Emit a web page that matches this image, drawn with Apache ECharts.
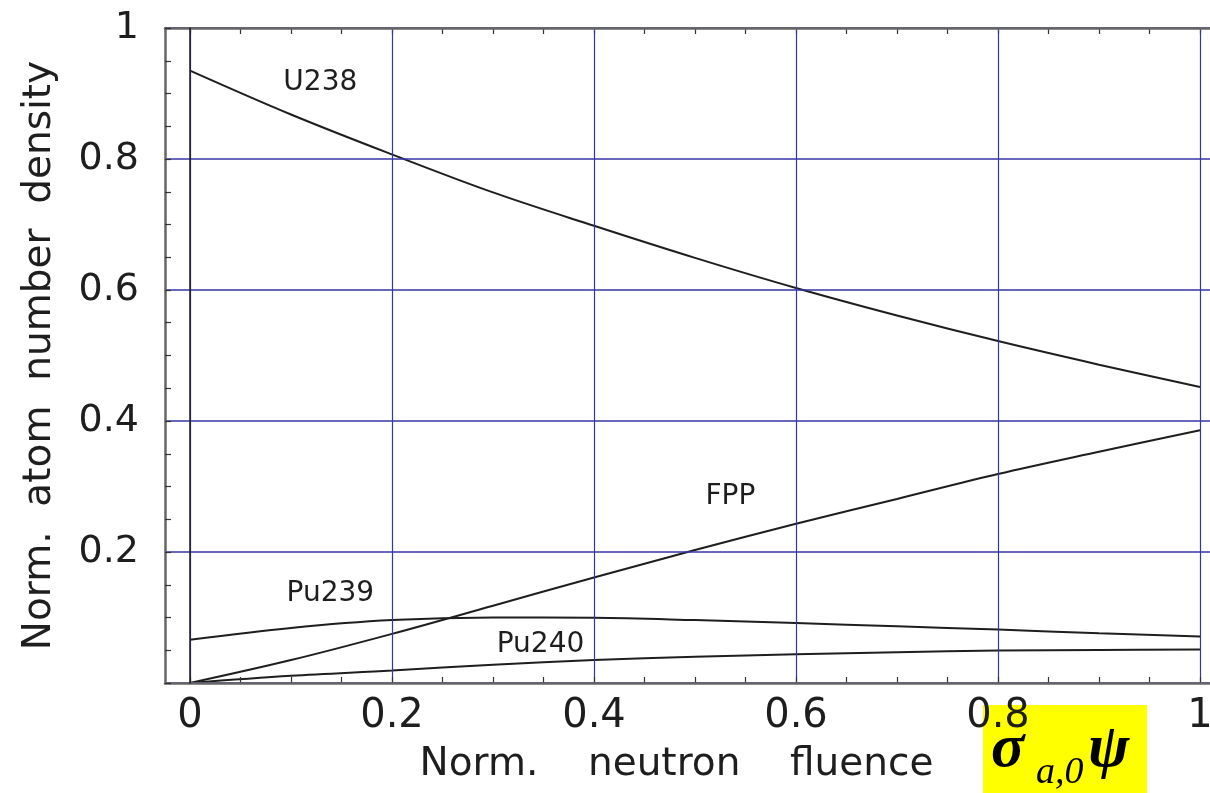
<!DOCTYPE html>
<html>
<head>
<meta charset="utf-8">
<script src="https://cdn.jsdelivr.net/npm/echarts@6/dist/echarts.min.js"></script>
<style>
  html, body { margin: 0; padding: 0; background: #fff; }
  #chart { width: 1210px; height: 793px; }
</style>
</head>
<body>
<div id="chart"></div>
<script>
// fluence steps
const fluence = [0, 0.1, 0.2, 0.3, 0.4, 0.5, 0.6, 0.7, 0.8, 0.9, 1.0]
const u238 = [0.935, 0.868, 0.807, 0.749, 0.698, 0.649, 0.603, 0.561, 0.522, 0.486, 0.452]
const fpp = [0, 0.035, 0.075, 0.118, 0.161, 0.203, 0.243, 0.281, 0.319, 0.353, 0.386]
const pu239 = [0.066, 0.084, 0.096, 0.100, 0.0995, 0.096, 0.0915, 0.0865, 0.0815, 0.076, 0.071]
const pu240 = [0, 0.011, 0.019, 0.028, 0.035, 0.040, 0.044, 0.047, 0.0495, 0.0505, 0.051]

const FONT = 'DejaVu Sans'
const NAVY = '#3535a5'
const FRAME = '#666'
const INK = '#1e1e1e'

const pairs = (ys) => fluence.map((x, i) => [x, ys[i]])

const curve = (name, ys, labelAt) => ({
    name: name,
    type: 'line',
    xAxisIndex: 2,
    yAxisIndex: 1,
    data: pairs(ys),
    smooth: 0.35,
    showSymbol: false,
    lineStyle: { color: INK, width: 2 },
    markPoint: {
        symbolSize: 0,
        silent: true,
        label: {
            show: true,
            position: 'inside',
            color: INK,
            fontFamily: FONT,
            fontSize: 28,
            formatter: name
        },
        data: [{ coord: labelAt }]
    }
})

const tickStyle = { color: '#333', width: 1.2 }

const chart = echarts.init(document.getElementById('chart'))

chart.setOption({
    animation: false,
    backgroundColor: '#fff',
    grid: [
        { left: 165, right: 0, top: 28, bottom: 110, outerBoundsMode: 'none', containLabel: false },
        { left: 190, right: 10, top: 28, bottom: 110, outerBoundsMode: 'none', containLabel: false }
    ],
    xAxis: [
        {
            // frame bottom
            gridIndex: 0, type: 'value', position: 'bottom', min: 0, max: 1, z: 5,
            axisLine: { show: true, onZero: false, lineStyle: { color: FRAME, width: 2.5 } },
            axisTick: { show: false }, axisLabel: { show: false }, splitLine: { show: false },
            name: 'Norm.    neutron    fluence',
            nameLocation: 'middle',
            nameGap: 62,
            nameTextStyle: { fontFamily: FONT, fontSize: 39, color: INK, padding: [0, 22, 0, 0] }
        },
        {
            // frame top
            gridIndex: 0, type: 'value', position: 'top', min: 0, max: 1, z: 5,
            axisLine: { show: true, onZero: false, lineStyle: { color: FRAME, width: 2.5 } },
            axisTick: { show: false }, axisLabel: { show: false }, splitLine: { show: false }
        },
        {
            gridIndex: 1, type: 'value', position: 'bottom', min: 0, max: 1, interval: 0.2, z: 4,
            axisLine: { show: false, onZero: false },
            axisTick: { show: true, inside: true, length: 6, lineStyle: tickStyle },
            minorTick: { show: true, splitNumber: 4, length: 6, lineStyle: tickStyle },
            axisLabel: { color: INK, fontFamily: FONT, fontSize: 40, margin: 14 },
            splitLine: { show: true, lineStyle: { color: NAVY, width: 1.2 } }
        },
        {
            gridIndex: 1, type: 'value', position: 'top', min: 0, max: 1, interval: 0.2,
            axisLine: { show: false, onZero: false },
            axisTick: { show: true, inside: true, length: 6, lineStyle: tickStyle },
            minorTick: { show: true, splitNumber: 4, length: 6, lineStyle: tickStyle },
            axisLabel: { show: false },
            splitLine: { show: false }
        }
    ],
    yAxis: [
        {
            gridIndex: 0, type: 'value', min: 0, max: 1, interval: 0.2, z: 5,
            axisLine: { show: true, onZero: false, lineStyle: { color: FRAME, width: 2.5 } },
            axisTick: { show: true, inside: true, length: 6, lineStyle: tickStyle },
            minorTick: { show: true, splitNumber: 4, length: 6, lineStyle: tickStyle },
            axisLabel: {
                color: INK, fontFamily: FONT, fontSize: 38, margin: 26,
                showMinLabel: false
            },
            splitLine: { show: true, lineStyle: { color: NAVY, width: 1.5 } },
            name: 'Norm.  atom  number  density',
            nameLocation: 'middle',
            nameGap: 106,
            nameTextStyle: { fontFamily: FONT, fontSize: 39, color: INK }
        },
        {
            // black line at x = 0
            gridIndex: 1, type: 'value', min: 0, max: 1, z: 6,
            axisLine: { show: true, onZero: false, lineStyle: { color: INK, width: 1.5 } },
            axisTick: { show: false }, axisLabel: { show: false }, splitLine: { show: false }
        }
    ],
    series: [
        curve('U238', u238, [0.129, 0.916]),
        curve('FPP', fpp, [0.535, 0.284]),
        curve('Pu239', pu239, [0.139, 0.137]),
        curve('Pu240', pu240, [0.347, 0.058])
    ],
    graphic: [
        {
            type: 'rect',
            shape: { x: 983, y: 705, width: 164, height: 88 },
            style: { fill: '#ffff00' },
            z: -1
        },
        {
            type: 'text', x: 991, y: 750, z: 11,
            style: {
                text: 'σ', fill: '#000', fontSize: 62, fontStyle: 'italic', fontWeight: 'bold',
                fontFamily: 'Liberation Serif', verticalAlign: 'middle'
            }
        },
        {
            type: 'text', x: 1036, y: 773, z: 11,
            style: {
                text: 'a,0', fill: '#000', fontSize: 38, fontStyle: 'italic',
                fontFamily: 'Liberation Serif', verticalAlign: 'middle'
            }
        },
        {
            type: 'text', x: 1088, y: 750, z: 11,
            style: {
                text: 'ψ', fill: '#000', fontSize: 62, fontStyle: 'italic', fontWeight: 'bold',
                fontFamily: 'Liberation Serif', verticalAlign: 'middle'
            }
        }
    ]
})
</script>
</body>
</html>
